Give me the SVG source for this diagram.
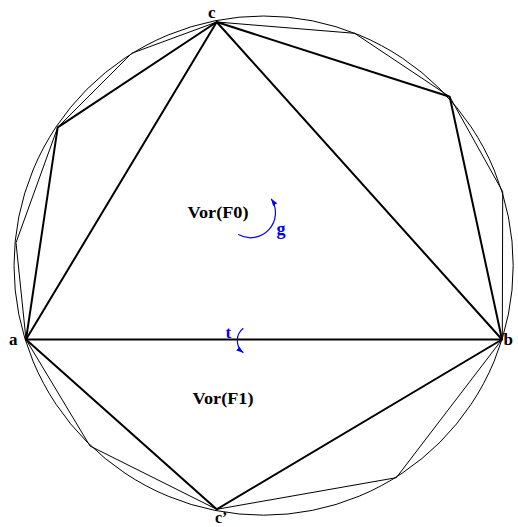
<svg xmlns="http://www.w3.org/2000/svg" width="518" height="527" viewBox="0 0 518 527">
<style>
.thick{stroke:#000;stroke-width:2;fill:none;stroke-linejoin:round}
.thin{stroke:#000;stroke-width:1;fill:none}
.lbl{font-family:"Liberation Serif","Times New Roman",serif;font-weight:bold;font-size:17px;fill:#000}
.blue{fill:#0000ff}
.rot{stroke:#0000ff;stroke-width:1.2;fill:none}
</style>
<defs>
<marker id="ah" markerUnits="userSpaceOnUse" markerWidth="8" markerHeight="6" refX="7" refY="2.5" orient="auto">
<path d="M0,0 L7,2.5 L0,5 z" fill="#0000ff"/>
</marker>
</defs>
<rect width="518" height="527" fill="#fff"/>
<g id="circle"><circle cx="263.6" cy="265.6" r="249.6" class="thin"/></g>
<g id="connectors">
<g id="thin-edges">
<polyline class="thin" points="57.7,127.3 131.7,53.3 216.7,22"/>
<polyline class="thin" points="57.7,127.3 16,242.7 26,339.5"/>
<polyline class="thin" points="216.7,22 354.7,33.3 449.7,96.7"/>
<polyline class="thin" points="449.7,96.7 502.7,191.7 502.3,339.5"/>
<polyline class="thin" points="26,339.5 90,446 216.7,509.3"/>
<polyline class="thin" points="216.7,509.3 396.3,477.7 502,339.5"/>
</g>
<g id="thick-edges">
<polygon class="thick" points="26,339.5 502,339.5 216.7,22"/>
<polyline class="thick" points="26,339.5 216.7,509.3 502,339.5"/>
<polyline class="thick" points="26,339.5 57.7,127.3 216.7,22 449.7,96.7 502,339.5"/>
</g>
<path id="rot-g" class="rot" d="M238.3,234.6 A25,25 0 0 0 271.2,198.8" marker-end="url(#ah)"/>
<path id="rot-t" class="rot" d="M243.3,328.3 A15.4,15.4 0 0 0 243.3,352.7" marker-end="url(#ah)"/>
</g>
<g id="node-c"><text class="lbl" x="208" y="17.5">c</text></g>
<g id="node-a"><text class="lbl" x="9" y="344.5">a</text></g>
<g id="node-b"><text class="lbl" x="503.5" y="344.5">b</text></g>
<g id="node-c2"><text class="lbl" x="215" y="522.5" style="font-size:16px">c’</text></g>
<g id="face-F0"><text class="lbl" x="187.5" y="217.5" textLength="61" lengthAdjust="spacingAndGlyphs">Vor(F0)</text></g>
<g id="face-F1"><text class="lbl" x="192.5" y="404" textLength="61" lengthAdjust="spacingAndGlyphs">Vor(F1)</text></g>
<g id="label-g"><text class="lbl blue" x="276.5" y="235" style="font-size:18px">g</text></g>
<g id="label-t"><text class="lbl blue" x="225.5" y="337.5">t</text></g>
</svg>
